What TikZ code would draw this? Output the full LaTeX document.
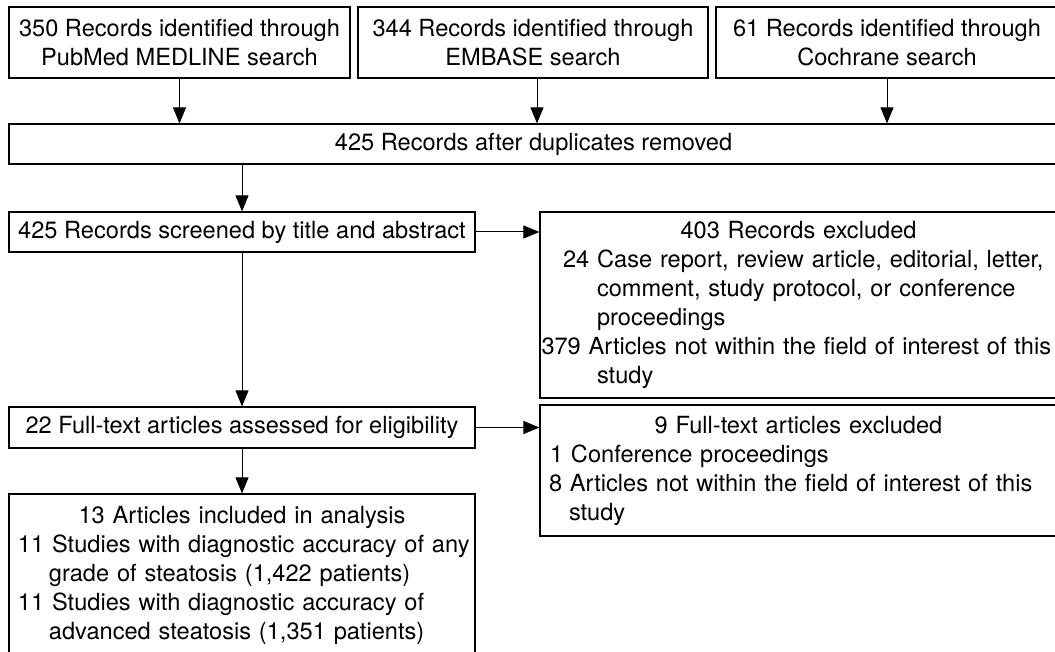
\documentclass[tikz,border=0pt]{standalone}
\usepackage{fontspec}
\setmainfont{TeX Gyre Heros}
\usetikzlibrary{arrows.meta}

\begin{document}
\begin{tikzpicture}[
		x=1pt,
		y=-1pt,
		flowbox/.style={draw, line width=1.2pt, inner sep=0pt, align=center, font=\fontsize{23.6}{29}\selectfont},
		listbox/.style={flowbox, align=left},
		flowarrow/.style={line width=1pt, -{Triangle[length=16pt, width=13pt]}}
	]
	\useasboundingbox (0,0) rectangle (1055,652);
	\clip (0,0) rectangle (1055,652);

	\node[flowbox, minimum width=341pt, minimum height=71pt] (pubmed) at (179.5,42.5) {350 Records identified through\\PubMed MEDLINE search};
	\node[flowbox, minimum width=350pt, minimum height=71pt] (embase) at (533,42.5) {344 Records identified through\\EMBASE search};
	\node[flowbox, minimum width=342pt, minimum height=71pt] (cochrane) at (887,42.5) {61 Records identified through\\Cochrane search};

	\node[flowbox, minimum width=1049pt, minimum height=40pt] (dupes) at (533.5,144) {425 Records after duplicates removed};

	\node[flowbox, minimum width=466pt, minimum height=40pt] (screened) at (242,232) {425 Records screened by title and abstract};
	\node[listbox, text width=517pt, minimum height=186pt] (excl1) at (798.5,305) {
		\makebox[517pt]{403 Records excluded}\\
		\hspace*{23pt}\mbox{24 Case report, review article, editorial, letter,}\\
		\hspace*{57pt}\mbox{comment, study protocol, or conference}\\
		\hspace*{57pt}proceedings\\
		\hspace*{1.5pt}\mbox{379 Articles not within the field of interest of this}\\
		\hspace*{57pt}study
	};

	\node[flowbox, minimum width=466pt, minimum height=41pt] (fulltext) at (242,427.5) {22 Full-text articles assessed for eligibility};
	\node[listbox, text width=517pt, minimum height=131pt] (excl2) at (798.5,470.5) {
		\makebox[517pt]{9 Full-text articles excluded}\\
		\hspace*{10pt}1 Conference proceedings\\
		\hspace*{9pt}\mbox{8 Articles not within the field of interest of this}\\
		\hspace*{29pt}study
	};

	\node[listbox, text width=466pt, minimum height=162pt] (included) at (242,575) {
		\makebox[466pt]{13 Articles included in analysis}\\
		\hspace*{9pt}\mbox{11 Studies with diagnostic accuracy of any}\\
		\hspace*{40pt}\mbox{grade of steatosis (1,422 patients)}\\
		\hspace*{9pt}\mbox{11 Studies with diagnostic accuracy of}\\
		\hspace*{40pt}\mbox{advanced steatosis (1,351 patients)}
	};

	\draw[flowarrow] (pubmed.south) -- (pubmed.south |- dupes.north);
	\draw[flowarrow] ([xshift=4pt]embase.south) -- ([xshift=4pt]embase.south |- dupes.north);
	\draw[flowarrow] (cochrane.south) -- (cochrane.south |- dupes.north);
	\draw[flowarrow] (dupes.south -| screened.north) -- (screened.north);
	\draw[flowarrow] (screened.east) -- (screened.east -| excl1.west);
	\draw[flowarrow] (screened.south) -- (fulltext.north);
	\draw[flowarrow] (fulltext.east) -- (fulltext.east -| excl2.west);
	\draw[flowarrow] (fulltext.south) -- (included.north);
\end{tikzpicture}
\end{document}
